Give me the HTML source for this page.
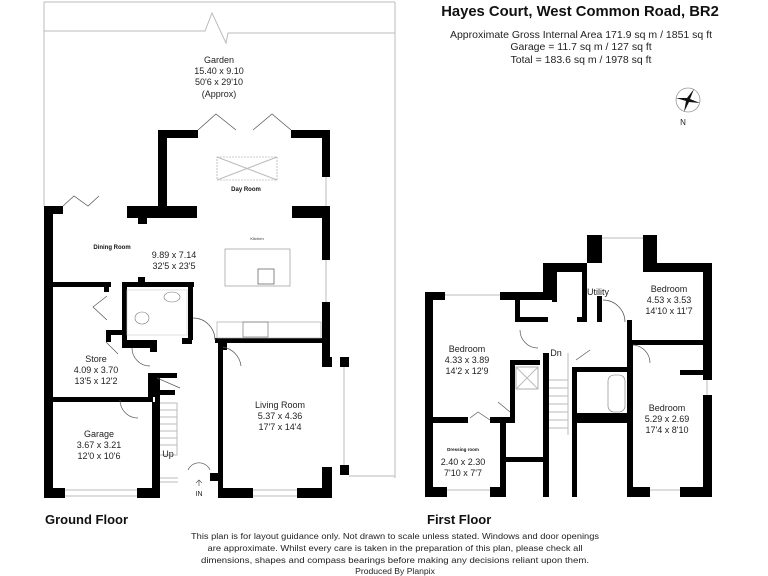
<!DOCTYPE html>
<html><head><meta charset="utf-8"><style>
html,body{margin:0;padding:0;background:#fff;}
svg{display:block;font-family:"Liberation Sans",sans-serif;}
.w{fill:#000}
.t{font-size:9px;fill:#222;text-anchor:middle}
.ln{stroke:#bbb;stroke-width:1;fill:none}
.d{stroke:#555;stroke-width:0.7;fill:none}
</style></head><body>
<svg width="768" height="576" viewBox="0 0 768 576">
<!-- garden -->
<path class="ln" d="M44 2 V206 M395 2 V478 M44 2 H395 M349 476 H395"/>
<path class="ln" d="M44 31 H205 L212 13 L226 43 L228 33 H395"/>
<text class="t" x="219" y="63">Garden</text>
<text class="t" x="219" y="74">15.40 x 9.10</text>
<text class="t" x="219" y="85">50'6 x 29'10</text>
<text class="t" x="219" y="97">(Approx)</text>
<!-- bifold doors -->
<path class="d" d="M198 130 L216 114 L236 130 M253 130 L272 114 L291 130 M63 206 L74 196 L88 206 L99 196"/>
<!-- ground walls -->
<g class="w">
<rect x="44" y="206" width="9" height="292"/>
<rect x="44" y="206" width="19" height="8"/>
<rect x="127" y="206" width="70" height="12"/>
<rect x="138" y="214" width="9" height="10"/>
<rect x="158" y="130" width="9" height="88"/>
<rect x="158" y="130" width="40" height="8"/>
<rect x="291" y="130" width="39" height="8"/>
<rect x="322" y="130" width="8" height="47"/>
<rect x="292" y="206" width="38" height="12"/>
<rect x="322" y="218" width="8" height="42"/>
<rect x="322" y="302" width="8" height="62"/>
<rect x="322" y="357" width="10" height="10"/>
<rect x="340" y="357" width="9" height="10"/>
<rect x="340" y="465" width="9" height="10"/>
<rect x="215" y="338" width="108" height="5"/>
<rect x="218" y="342" width="5" height="156"/>
<rect x="218" y="342" width="9" height="8"/>
<rect x="218" y="488" width="35" height="10"/>
<rect x="297" y="488" width="35" height="10"/>
<rect x="322" y="467" width="10" height="31"/>
<rect x="44" y="488" width="21" height="10"/>
<rect x="137" y="488" width="22" height="10"/>
<rect x="152" y="402" width="6" height="96"/>
<rect x="53" y="397" width="100" height="5"/>
<rect x="53" y="282" width="58" height="5"/>
<rect x="104" y="282" width="5" height="10"/>
<rect x="106" y="330" width="17" height="5"/>
<rect x="106" y="330" width="5" height="12"/>
<rect x="122" y="282" width="5" height="65"/>
<rect x="122" y="282" width="72" height="5"/>
<rect x="138" y="277" width="7" height="7"/>
<rect x="188" y="282" width="5" height="58"/>
<rect x="122" y="340" width="35" height="8"/>
<rect x="150" y="340" width="7" height="12"/>
<rect x="148" y="373" width="8" height="24"/>
<rect x="155" y="373" width="22" height="5"/>
<rect x="155" y="390" width="20" height="5"/>
<rect x="155" y="373" width="5" height="125"/>
<rect x="210" y="473" width="8" height="8"/>
<rect x="182" y="338" width="10" height="6"/>
</g>
<!-- windows -->
<path class="ln" d="M326 177 V206 M326 260 V302 M344 367 V465 M253 490 H297 M253 496 H297 M65 490 H137 M65 496 H137 M160 478 H178 M160 482 H178"/>
<!-- kitchen -->
<rect x="225" y="249" width="65" height="37" fill="none" stroke="#999" stroke-width="0.7"/>
<rect x="258" y="269" width="16" height="15" fill="none" stroke="#555" stroke-width="0.7"/>
<rect x="217" y="322" width="104" height="16" fill="none" stroke="#aaa" stroke-width="0.7"/>
<rect x="243" y="322" width="25" height="15" fill="none" stroke="#777" stroke-width="0.7"/>
<rect x="217" y="157" width="60" height="23" fill="none" stroke="#999" stroke-width="0.6" stroke-dasharray="2,1"/>
<path class="ln" d="M217 157 L277 180 M277 157 L217 180"/>
<!-- stairs -->
<path class="ln" d="M160 403 H177 V455 H160 M160 410 H177 M160 417 H177 M160 424 H177 M160 431 H177 M160 438 H177 M160 445 H177"/>
<!-- doors -->
<path class="d" d="M193 318 A22 22 0 0 1 215 340 M223 347 A22 22 0 0 1 241 366 M132 348 A18 18 0 0 0 150 366 M120 400 A18 18 0 0 0 138 418 M210 470 A12 12 0 0 0 188 470 M107 296 L93 307 L107 320 M106 342 L118 354 M157 378 L180 388"/>
<rect x="127" y="290" width="60" height="45" fill="none" stroke="#ccc" stroke-width="0.6"/>
<ellipse cx="172" cy="297" rx="8" ry="5" fill="none" stroke="#777" stroke-width="0.6"/>
<ellipse cx="142" cy="318" rx="7" ry="6" fill="none" stroke="#777" stroke-width="0.6"/>
<text x="112" y="249" font-size="6" font-weight="bold" fill="#111" text-anchor="middle">Dining Room</text>
<text x="246" y="191" font-size="6" font-weight="bold" fill="#111" text-anchor="middle">Day Room</text>
<text x="257" y="240" font-size="4" fill="#333" text-anchor="middle">Kitchen</text>
<text class="t" x="174" y="258">9.89 x 7.14</text>
<text class="t" x="174" y="269">32'5 x 23'5</text>
<text class="t" x="96" y="362">Store</text>
<text class="t" x="96" y="373">4.09 x 3.70</text>
<text class="t" x="96" y="384">13'5 x 12'2</text>
<text class="t" x="99" y="437">Garage</text>
<text class="t" x="99" y="448">3.67 x 3.21</text>
<text class="t" x="99" y="459">12'0 x 10'6</text>
<text class="t" x="168" y="457">Up</text>
<text class="t" x="280" y="408">Living Room</text>
<text class="t" x="280" y="419">5.37 x 4.36</text>
<text class="t" x="280" y="430">17'7 x 14'4</text>
<text x="199" y="496" font-size="7" fill="#222" text-anchor="middle">IN</text>
<path class="d" d="M199 486 V480 M196 483 L199 480 L202 483"/>
<!-- first floor walls -->
<g class="w">
<rect x="425" y="292" width="8" height="205"/>
<rect x="425" y="292" width="20" height="8"/>
<rect x="500" y="292" width="47" height="8"/>
<rect x="543" y="263" width="9" height="37"/>
<rect x="543" y="263" width="40" height="9"/>
<rect x="582" y="263" width="5" height="57"/>
<rect x="587" y="235" width="15" height="28"/>
<rect x="643" y="235" width="14" height="37"/>
<rect x="657" y="263" width="55" height="9"/>
<rect x="703" y="263" width="9" height="117"/>
<rect x="703" y="395" width="9" height="102"/>
<rect x="515" y="300" width="5" height="22"/>
<rect x="515" y="317" width="33" height="5"/>
<rect x="552" y="272" width="5" height="30"/>
<rect x="577" y="317" width="10" height="5"/>
<rect x="597" y="296" width="5" height="26"/>
<rect x="627" y="320" width="5" height="25"/>
<rect x="628" y="340" width="75" height="5"/>
<rect x="433" y="417" width="35" height="6"/>
<rect x="490" y="417" width="25" height="6"/>
<rect x="510" y="360" width="5" height="63"/>
<rect x="510" y="360" width="30" height="5"/>
<rect x="500" y="420" width="6" height="77"/>
<rect x="500" y="457" width="45" height="5"/>
<rect x="543" y="353" width="6" height="144"/>
<rect x="572" y="367" width="5" height="130"/>
<rect x="577" y="367" width="50" height="5"/>
<rect x="577" y="413" width="50" height="10"/>
<rect x="627" y="343" width="6" height="154"/>
<rect x="627" y="487" width="23" height="10"/>
<rect x="680" y="487" width="32" height="10"/>
<rect x="425" y="487" width="22" height="10"/>
<rect x="490" y="487" width="15" height="10"/>
<rect x="680" y="370" width="25" height="5"/>
</g>
<path class="ln" d="M445 295 H500 M602 238 H643 M707 380 V395 M650 490 H680 M447 490 H490 M549 380 H568 M549 388 H568 M549 396 H568 M549 404 H568 M549 412 H568 M549 420 H568 M549 428 H568 M568 353 V435"/>
<rect x="516" y="367" width="22" height="22" fill="none" stroke="#777" stroke-width="0.6"/>
<path class="ln" d="M516 367 L538 389 M538 367 L516 389"/>
<rect x="608" y="375" width="17" height="37" rx="6" fill="none" stroke="#777" stroke-width="0.6"/>
<path class="d" d="M520 330 A18 18 0 0 0 538 348 M603 300 A22 22 0 0 1 625 322 M633 345 A18 18 0 0 1 650 363 M470 418 L478 412 L490 420 M498 402 L510 412 M576 360 L590 350"/>
<text class="t" x="598" y="295" font-size="8">Utility</text>
<text class="t" x="669" y="292">Bedroom</text>
<text class="t" x="669" y="303">4.53 x 3.53</text>
<text class="t" x="669" y="314">14'10 x 11'7</text>
<text class="t" x="467" y="352">Bedroom</text>
<text class="t" x="467" y="363">4.33 x 3.89</text>
<text class="t" x="467" y="374">14'2 x 12'9</text>
<text class="t" x="556" y="356">Dn</text>
<text class="t" x="667" y="411">Bedroom</text>
<text class="t" x="667" y="422">5.29 x 2.69</text>
<text class="t" x="667" y="433">17'4 x 8'10</text>
<text x="463" y="451" font-size="4.5" font-weight="bold" fill="#111" text-anchor="middle">Dressing room</text>
<text class="t" x="463" y="465">2.40 x 2.30</text>
<text class="t" x="463" y="476">7'10 x 7'7</text>
<!-- header -->
<text x="580" y="16" font-size="14.8" font-weight="bold" fill="#111" text-anchor="middle">Hayes Court, West Common Road, BR2</text>
<text x="581" y="38" font-size="10.5" fill="#222" text-anchor="middle">Approximate Gross Internal Area 171.9 sq m / 1851 sq ft</text>
<text x="581" y="50" font-size="10.5" fill="#222" text-anchor="middle">Garage = 11.7 sq m / 127 sq ft</text>
<text x="581" y="63" font-size="10.5" fill="#222" text-anchor="middle">Total = 183.6 sq m / 1978 sq ft</text>
<circle cx="688" cy="100" r="12" fill="none" stroke="#999" stroke-width="0.8"/>
<path d="M694 89 L690 99 L700 103 L689 102 L684 112 L686 101 L676 98 L687 98 Z" fill="#111"/>
<text x="683" y="125" font-size="8" fill="#222" text-anchor="middle">N</text>
<text x="45" y="524" font-size="13" font-weight="bold" fill="#111">Ground Floor</text>
<text x="427" y="524" font-size="13" font-weight="bold" fill="#111">First Floor</text>
<g font-size="8.6" fill="#222" text-anchor="middle" style="font-family:'Liberation Sans Narrow','Liberation Sans',sans-serif">
<text x="395" y="539" textLength="408" lengthAdjust="spacingAndGlyphs">This plan is for layout guidance only. Not drawn to scale unless stated. Windows and door openings</text>
<text x="395" y="551" textLength="375" lengthAdjust="spacingAndGlyphs">are approximate. Whilst every care is taken in the preparation of this plan, please check all</text>
<text x="395" y="563" textLength="388" lengthAdjust="spacingAndGlyphs">dimensions, shapes and compass bearings before making any decisions reliant upon them.</text>
<text x="395" y="574">Produced By Planpix</text>
</g>
</svg>
</body></html>
